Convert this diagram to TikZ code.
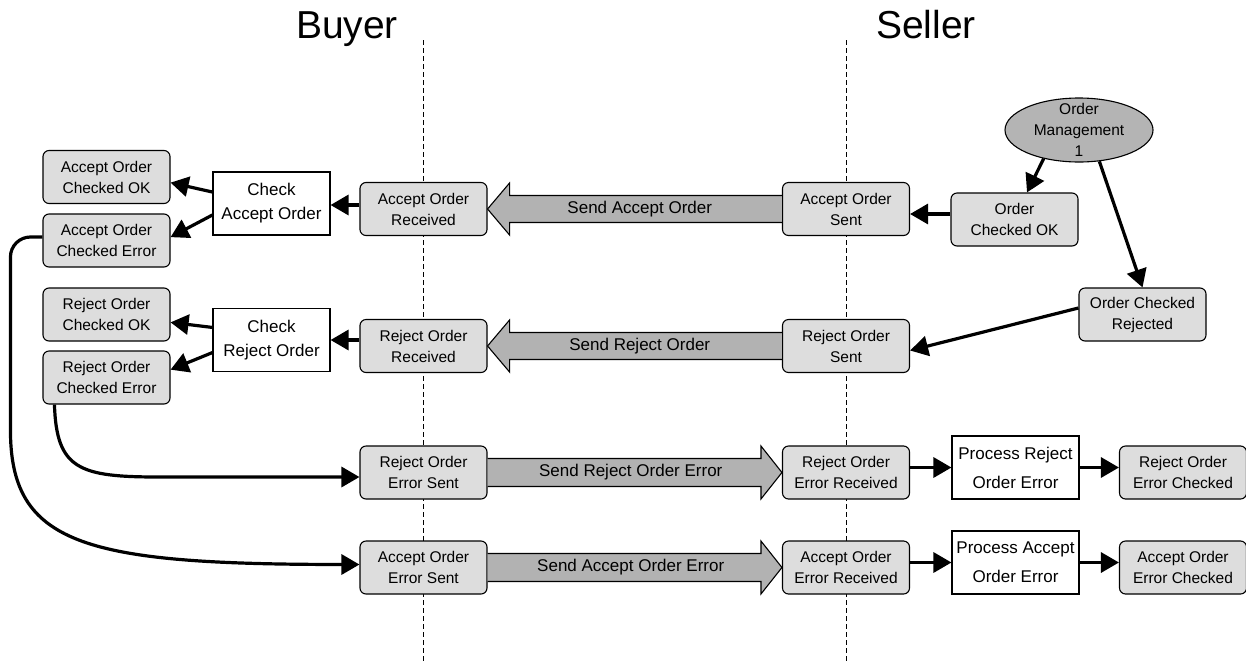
\documentclass[tikz,border=0pt]{standalone}
\usepackage{fontspec}
\setmainfont{Liberation Sans}
\usetikzlibrary{arrows.meta,calc,shapes.geometric}

\definecolor{boxgray}{RGB}{221,221,221}
\definecolor{arrowgray}{RGB}{178,178,178}
\definecolor{ellgray}{RGB}{180,180,180}

\begin{document}
\begin{tikzpicture}[x=1pt,y=-1pt,
  state/.style={draw=black, line width=1.1pt, fill=boxgray, rounded corners=6pt,
    minimum width=127pt, minimum height=53pt, inner sep=0pt, align=center,
    font=\fontsize{15.5}{21}\selectfont},
  task/.style={draw=black, line width=1.1pt, fill=white, minimum width=117pt,
    minimum height=63pt, inner sep=0pt, align=center, font=\fontsize{17}{24}\selectfont},
  proc/.style={task, minimum width=127pt, font=\fontsize{17}{29}\selectfont},
  flow/.style={line width=3.2pt, -{Triangle[length=18pt,width=20pt]}},
  lane/.style={line width=1pt, dash pattern=on 5pt off 3pt},
  msg/.style={draw=black, line width=1.1pt, fill=arrowgray, line join=miter},
  msglabel/.style={font=\fontsize{17}{20}\selectfont},
  title/.style={font=\fontsize{39}{44}\selectfont, anchor=base}]

\useasboundingbox (0,0) rectangle (1246,662);

% swim lanes
\coordinate (buyerTop) at (423.5,40);
\coordinate (buyerBot) at (423.5,662);
\coordinate (sellerTop) at (846,40);
\coordinate (sellerBot) at (846,662);
\draw[lane] (buyerTop) -- (buyerBot);
\draw[lane] (sellerTop) -- (sellerBot);

\node[title] (buyer) at (347,38) {Buyer};
\node[title] (seller) at (926,38) {Seller};

% buyer side
\node[state] (ACOK) at (106.5,177) {Accept Order\\Checked OK};
\node[state] (ACE) at (106.5,240.5) {Accept Order\\Checked Error};
\node[task] (CAO) at (271.5,203.5) {Check\\Accept Order};
\node[state] (AOR) at (423.5,209) {Accept Order\\Received};

\node[state] (RCOK) at (106.5,314.5) {Reject Order\\Checked OK};
\node[state] (RCE) at (106.5,377.5) {Reject Order\\Checked Error};
\node[task] (CRO) at (271.5,340) {Check\\Reject Order};
\node[state] (ROR) at (423.5,346) {Reject Order\\Received};

\node[state] (ROES) at (423.5,472.5) {Reject Order\\Error Sent};
\node[state] (AOES) at (423.5,567.5) {Accept Order\\Error Sent};

% seller side
\node[ellipse, draw=black, line width=1.1pt, fill=ellgray, minimum width=148pt,
  minimum height=64pt, inner sep=0pt] (OM) at (1079,130) {};
\node[align=center, inner sep=0pt, font=\fontsize{15.5}{21}\selectfont] (OMtext) at (OM.center) {Order\\Management\\1};
\node[state] (AOS) at (846,209) {Accept Order\\Sent};
\node[state] (OCOK) at (1014.5,219.5) {Order\\Checked OK};
\node[state] (OCR) at (1142.5,314.5) {Order Checked\\Rejected};
\node[state] (ROS) at (846,346) {Reject Order\\Sent};

\node[state] (ROER) at (846,472.5) {Reject Order\\Error Received};
\node[proc] (PRE) at (1015.5,467.5) {Process Reject\\Order Error};
\node[state] (ROEC) at (1183,472.5) {Reject Order\\Error Checked};
\node[state] (AOER) at (846,567.5) {Accept Order\\Error Received};
\node[proc] (PAE) at (1015.5,562.5) {Process Accept\\Order Error};
\node[state] (AOEC) at (1183,567.5) {Accept Order\\Error Checked};

% messages between the parties
\draw[msg] ($(AOS.west)+(0,-13.5)$) -- ($(AOR.east)+(22,-13.5)$) -- ($(AOR.east)+(22,-26)$)
  -- (AOR.east) -- ($(AOR.east)+(22,26)$) -- ($(AOR.east)+(22,13.5)$) -- ($(AOS.west)+(0,13.5)$);
\node[msglabel] (sendAO) at ($($(AOR.east)!0.5!(AOS.west)$)+(5,0)$) {Send Accept Order};

\draw[msg] ($(ROS.west)+(0,-13.5)$) -- ($(ROR.east)+(22,-13.5)$) -- ($(ROR.east)+(22,-26)$)
  -- (ROR.east) -- ($(ROR.east)+(22,26)$) -- ($(ROR.east)+(22,13.5)$) -- ($(ROS.west)+(0,13.5)$);
\node[msglabel] (sendRO) at ($($(ROR.east)!0.5!(ROS.west)$)+(5,0)$) {Send Reject Order};

\draw[msg] ($(ROES.east)+(0,-14)$) -- ($(ROER.west)+(-21,-14)$) -- ($(ROER.west)+(-21,-26.5)$)
  -- (ROER.west) -- ($(ROER.west)+(-21,26.5)$) -- ($(ROER.west)+(-21,14)$) -- ($(ROES.east)+(0,14)$);
\node[msglabel] (sendROE) at ($($(ROES.east)!0.5!(ROER.west)$)+(-4,0)$) {Send Reject Order Error};

\draw[msg] ($(AOES.east)+(0,-14)$) -- ($(AOER.west)+(-21,-14)$) -- ($(AOER.west)+(-21,-26.5)$)
  -- (AOER.west) -- ($(AOER.west)+(-21,26.5)$) -- ($(AOER.west)+(-21,14)$) -- ($(AOES.east)+(0,14)$);
\node[msglabel] (sendAOE) at ($($(AOES.east)!0.5!(AOER.west)$)+(-4,0)$) {Send Accept Order Error};

% control flow
\draw[flow] (OM.219) -- ([xshift=12.5]OCOK.north);
\draw[flow] (OM.-57) -- (OCR.north);
\draw[flow] ($(OCOK.west)+(0,-5.5)$) -- ($(AOS.east)+(0,5)$);
\draw[flow] ($(OCR.west)+(0,-6.5)$) -- ($(ROS.east)+(0,4.5)$);

\draw[flow] ($(AOR.west)+(0,-4)$) -- ($(CAO.east)+(0,1.5)$);
\draw[flow] (CAO.169) -- (ACOK.-5);
\draw[flow] (CAO.191) -- (ACE.3);
\draw[flow] ($(ROR.west)+(0,-6)$) -- (CRO.east);
\draw[flow] (CRO.168) -- (RCOK.-7);
\draw[flow] (CRO.192) -- (RCE.7);

\draw[flow] ([xshift=12]RCE.south west) .. controls +(2,65) and +(-80,0) ..
  ($(ROES.west)+(-200,4.5)$) -- ($(ROES.west)+(0,4.5)$);
\draw[flow, rounded corners=20pt] ($(ACE.west)+(0,-3.5)$) -- ++(-32,0) -- ++(0,173)
  .. controls +(0,130) and +(-250,-2) .. ($(AOES.west)+(-31,-3)$) -- ($(AOES.west)+(0,-3)$);

\draw[flow] ($(ROER.east)+(0,-5)$) -- (PRE.west);
\draw[flow] (PRE.east) -- ($(ROEC.west)+(0,-5)$);
\draw[flow] ($(AOER.east)+(0,-5)$) -- (PAE.west);
\draw[flow] (PAE.east) -- ($(AOEC.west)+(0,-5)$);

\end{tikzpicture}
\end{document}
